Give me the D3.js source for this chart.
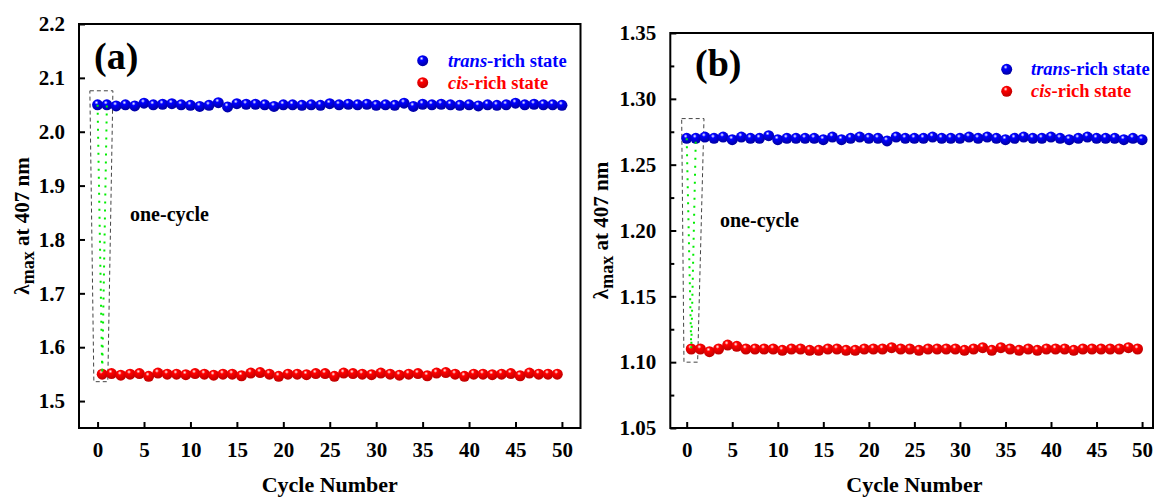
<!DOCTYPE html>
<html>
<head>
<meta charset="utf-8">
<script src="https://cdn.jsdelivr.net/npm/d3@7"></script>
<style>
  body { margin: 0; background: #fff; }
  svg text { font-family: "Liberation Serif", "Times New Roman", serif; font-weight: bold; }
</style>
</head>
<body>
<div id="chart"></div>
<script>
// Canvas size.
const WIDTH = 1156;
const HEIGHT = 497;

// Panel (a): trans-rich at whole cycles, cis-rich at half cycles.
const transA = [2.050, 2.050, 2.048, 2.050, 2.048, 2.053, 2.050, 2.051, 2.052, 2.050,
  2.049, 2.047, 2.049, 2.054, 2.046, 2.052, 2.051, 2.051, 2.050, 2.047,
  2.050, 2.050, 2.049, 2.050, 2.049, 2.052, 2.050, 2.051, 2.050, 2.051,
  2.049, 2.050, 2.049, 2.053, 2.047, 2.051, 2.050, 2.051, 2.050, 2.049,
  2.050, 2.048, 2.050, 2.049, 2.050, 2.053, 2.050, 2.051, 2.050, 2.050, 2.049];
const cisA = [1.550, 1.551, 1.548, 1.550, 1.551, 1.546, 1.552, 1.550, 1.550, 1.549,
  1.551, 1.550, 1.548, 1.550, 1.550, 1.547, 1.552, 1.553, 1.550, 1.546,
  1.550, 1.550, 1.549, 1.551, 1.551, 1.546, 1.552, 1.551, 1.550, 1.549,
  1.552, 1.550, 1.548, 1.550, 1.551, 1.547, 1.552, 1.553, 1.550, 1.546,
  1.550, 1.550, 1.549, 1.550, 1.551, 1.547, 1.552, 1.550, 1.550, 1.550];

// Panel (b).
const transB = [1.270, 1.270, 1.271, 1.270, 1.271, 1.269, 1.271, 1.270, 1.270, 1.272,
  1.269, 1.270, 1.270, 1.270, 1.270, 1.269, 1.271, 1.269, 1.270, 1.271,
  1.270, 1.270, 1.268, 1.271, 1.270, 1.270, 1.270, 1.271, 1.270, 1.270,
  1.270, 1.271, 1.270, 1.271, 1.270, 1.269, 1.270, 1.271, 1.270, 1.270,
  1.271, 1.270, 1.269, 1.270, 1.271, 1.270, 1.270, 1.270, 1.269, 1.270, 1.269];
const cisB = [1.110, 1.110, 1.108, 1.110, 1.113, 1.112, 1.110, 1.110, 1.110, 1.110,
  1.109, 1.110, 1.110, 1.109, 1.109, 1.110, 1.110, 1.109, 1.109, 1.110,
  1.110, 1.110, 1.111, 1.110, 1.110, 1.109, 1.110, 1.110, 1.110, 1.110,
  1.109, 1.110, 1.111, 1.109, 1.111, 1.110, 1.109, 1.110, 1.109, 1.110,
  1.110, 1.110, 1.109, 1.110, 1.110, 1.110, 1.110, 1.110, 1.111, 1.110];

// Tick values.
const xTicks = [0, 5, 10, 15, 20, 25, 30, 35, 40, 45, 50];
const yTicksA = [1.5, 1.6, 1.7, 1.8, 1.9, 2.0, 2.1, 2.2];
const yTicksB = [1.05, 1.10, 1.15, 1.20, 1.25, 1.30, 1.35];
const yMinorB = [1.075, 1.125, 1.175, 1.225, 1.275, 1.325];

// Dashed outline around the first cycle, in data units.
const boxA = [[-0.83, 2.076], [1.65, 2.076], [1.1, 1.536], [-0.4, 1.536]];
const boxB = [[-0.55, 1.285], [1.9, 1.285], [1.2, 1.100], [-0.3, 1.100]];

const COLORS = { trans: "#0000ff", cis: "#ff0000", cycle: "#00ee00" };
const R = 5.5;

let svg = d3.select("#chart").append("svg")
  .attr("width", WIDTH)
  .attr("height", HEIGHT);

// Shaded balls.
let defs = svg.append("defs");
function ballGradient(id, base, dark) {
  let g = defs.append("radialGradient").attr("id", id)
    .attr("cx", "40%").attr("cy", "30%").attr("r", "65%");
  g.append("stop").attr("offset", "0%").attr("stop-color", "#ffffff");
  g.append("stop").attr("offset", "28%").attr("stop-color", base);
  g.append("stop").attr("offset", "100%").attr("stop-color", dark);
}
ballGradient("ballBlue", COLORS.trans, "#0000a8");
ballGradient("ballRed", COLORS.cis, "#c40000");

drawPanel({
  label: "(a)", labelPos: [94, 69],
  x: d3.scaleLinear().domain([-2, 52]).range([79, 580.5]),
  y: d3.scaleLinear().domain([1.45, 2.2]).range([428, 24]),
  yTicks: yTicksA, yMinor: [], yFmt: d3.format(".1f"),
  trans: transA, cis: cisA, box: boxA,
  titleX: 22, textPos: [130, 221],
  legend: [422.7, 60.7, 448],
});

drawPanel({
  label: "(b)", labelPos: [695, 76],
  x: d3.scaleLinear().domain([-1.8, 51.2]).range([670.3, 1153]),
  y: d3.scaleLinear().domain([1.05, 1.35]).range([428, 33]),
  yTicks: yTicksB, yMinor: yMinorB, yFmt: d3.format(".2f"),
  trans: transB, cis: cisB, box: boxB,
  titleX: 601, textPos: [720, 227],
  legend: [1006.7, 69.3, 1031],
});

function drawPanel(p) {
  const [x0, x1] = p.x.range();
  const [yb, yt] = p.y.range();
  let g = svg.append("g");

  // Frame.
  g.append("rect")
    .attr("x", x0).attr("y", yt)
    .attr("width", x1 - x0).attr("height", yb - yt)
    .attr("fill", "none").attr("stroke", "#000").attr("stroke-width", 2);

  // Inward ticks on bottom and left.
  let xAxis = g.append("g")
    .attr("transform", "translate(0," + yb + ")")
    .call(d3.axisBottom(p.x).tickValues(xTicks).tickSizeInner(-6).tickSizeOuter(0).tickPadding(14));
  let yAxis = g.append("g")
    .attr("transform", "translate(" + x0 + ",0)")
    .call(d3.axisLeft(p.y).tickValues(p.yTicks).tickFormat(p.yFmt).tickSizeInner(-6).tickSizeOuter(0).tickPadding(14));
  g.append("g")
    .attr("transform", "translate(" + x0 + ",0)")
    .call(d3.axisLeft(p.y).tickValues(p.yMinor).tickSizeInner(-4).tickSizeOuter(0).tickFormat(""))
    .select(".domain").remove();
  [xAxis, yAxis].forEach((a) => a.select(".domain").remove());
  g.selectAll(".tick line").attr("stroke", "#000").attr("stroke-width", 2);
  g.selectAll(".tick text")
    .attr("fill", "#000")
    .style("font-size", "21px")
    .style("font-family", "'Liberation Serif', serif")
    .style("font-weight", "bold");

  // Axis titles.
  g.append("text")
    .attr("x", (p.x(0) + p.x(50)) / 2).attr("y", 492)
    .attr("text-anchor", "middle")
    .style("font-size", "22px")
    .text("Cycle Number");

  let yt2 = g.append("text")
    .attr("transform", "translate(" + (p.titleX + 7) + "," + (yb + yt) / 2 + ") rotate(-90)")
    .attr("text-anchor", "middle")
    .style("font-size", "21px");
  yt2.append("tspan").text("λ");
  yt2.append("tspan").attr("dy", 5).style("font-size", "18px").text("max");
  yt2.append("tspan").attr("dy", -5).text(" at 407 nm");

  // Dashed box around the first cycle.
  g.append("polygon")
    .attr("points", p.box.map((d) => p.x(d[0]) + "," + p.y(d[1])).join(" "))
    .attr("fill", "none").attr("stroke", "#444")
    .attr("stroke-width", 1).attr("stroke-dasharray", "4,3");

  // Balls.
  g.selectAll(".trans").data(p.trans).enter().append("circle")
    .attr("cx", (d, i) => p.x(i)).attr("cy", (d) => p.y(d))
    .attr("r", R).attr("fill", "url(#ballBlue)");
  g.selectAll(".cis").data(p.cis).enter().append("circle")
    .attr("cx", (d, i) => p.x(i + 0.5)).attr("cy", (d) => p.y(d))
    .attr("r", R).attr("fill", "url(#ballRed)");

  // Green dotted path of one cycle: trans -> cis -> trans.
  let cycle = [[0, p.trans[0]], [0.5, p.cis[0]], [1, p.trans[1]]];
  g.append("path")
    .attr("d", d3.line().x((d) => p.x(d[0])).y((d) => p.y(d[1]))(cycle))
    .attr("fill", "none").attr("stroke", COLORS.cycle)
    .attr("stroke-width", 2).attr("stroke-dasharray", "2,6");

  g.append("text")
    .attr("x", p.textPos[0]).attr("y", p.textPos[1])
    .style("font-size", "20px")
    .text("one-cycle");

  g.append("text")
    .attr("x", p.labelPos[0]).attr("y", p.labelPos[1])
    .style("font-size", "38px")
    .text(p.label);

  // Legend.
  const [lx, ly, tx] = p.legend;
  const rows = [
    { fill: "url(#ballBlue)", color: COLORS.trans, it: "trans", rest: "-rich state" },
    { fill: "url(#ballRed)", color: COLORS.cis, it: "cis", rest: "-rich state" },
  ];
  rows.forEach((r, i) => {
    g.append("circle").attr("cx", lx).attr("cy", ly + i * 22).attr("r", R).attr("fill", r.fill);
    let t = g.append("text").attr("x", tx).attr("y", ly + i * 22 + 6)
      .attr("fill", r.color).style("font-size", "18.5px");
    t.append("tspan").style("font-style", "italic").text(r.it);
    t.append("tspan").text(r.rest);
  });
}
</script>
</body>
</html>
